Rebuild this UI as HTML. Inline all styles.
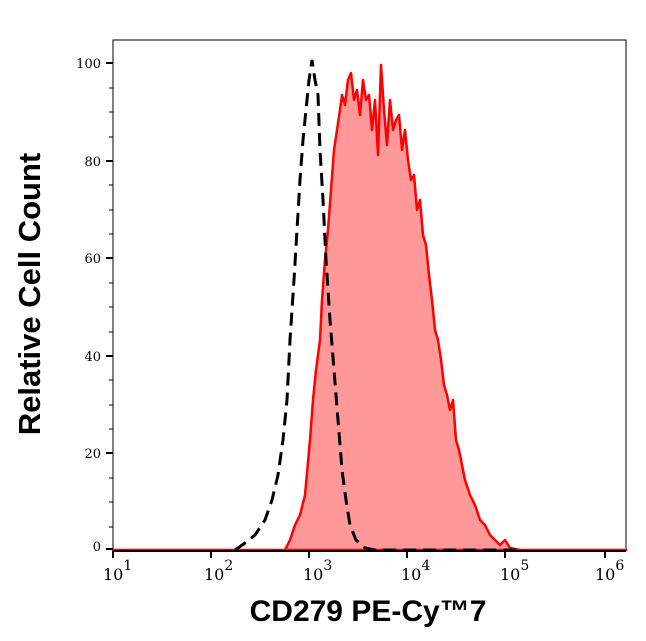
<!DOCTYPE html>
<html><head><meta charset="utf-8"><style>body{margin:0;background:#fff}svg{display:block}</style></head>
<body>
<svg width="646" height="641" xmlns="http://www.w3.org/2000/svg" font-family="DejaVu Serif, serif">
<rect x="113" y="40" width="513" height="511" fill="#fff" stroke="#000" stroke-width="1"/>
<path d="M113,550 L285,550 L290,540 L295,525 L300,515 L305,495 L310,440 L313,400 L316,370 L320,340 L322,300 L325,260 L328,230 L331,190 L334,150 L337,130 L340,110 L342,95 L345,105 L348,80 L351,73 L354,100 L357,90 L360,115 L363,80 L366,100 L369,95 L372,130 L375,100 L378,155 L381,65 L384,110 L387,145 L390,100 L393,130 L396,120 L399,115 L402,150 L405,130 L408,160 L411,180 L414,175 L417,210 L420,200 L423,235 L426,245 L429,275 L432,300 L435,330 L438,340 L441,360 L444,385 L447,395 L450,410 L453,400 L456,440 L459,450 L462,465 L465,480 L470,495 L475,505 L480,520 L485,525 L490,535 L495,540 L500,545 L505,540 L510,548 L520,550 L626,550 Z" fill="#ff9999" stroke="#ff0000" stroke-width="2.5" stroke-linejoin="round"/>
<path d="M235,550 L245,543 L255,535 L265,520 L272,500 L278,475 L283,440 L287,400 L290,340 L294,280 L297,230 L300,180 L303,140 L306,110 L309,80 L312,60 L315,80 L318,95 L320,150 L323,200 L326,260 L330,320 L334,370 L338,420 L342,470 L346,500 L350,525 L356,540 L365,548 L375,550 L520,550" fill="none" stroke="#000" stroke-width="3" stroke-dasharray="13,7"/>
<line x1="113" y1="551" x2="626" y2="551" stroke="#000" stroke-width="2"/>
<g stroke="#000" stroke-width="2">
<line x1="106" y1="63" x2="113" y2="63"/><line x1="106" y1="161" x2="113" y2="161"/><line x1="106" y1="258" x2="113" y2="258"/><line x1="106" y1="356" x2="113" y2="356"/><line x1="106" y1="453" x2="113" y2="453"/><line x1="106" y1="549" x2="113" y2="549"/>
<line x1="113" y1="551" x2="113" y2="558"/><line x1="211" y1="551" x2="211" y2="558"/><line x1="309" y1="551" x2="309" y2="558"/><line x1="407" y1="551" x2="407" y2="558"/><line x1="505" y1="551" x2="505" y2="558"/><line x1="605" y1="551" x2="605" y2="558"/>
</g>
<g stroke="#000" stroke-width="1">
<line x1="109" y1="88" x2="113" y2="88"/><line x1="109" y1="112" x2="113" y2="112"/><line x1="109" y1="137" x2="113" y2="137"/>
<line x1="109" y1="185" x2="113" y2="185"/><line x1="109" y1="210" x2="113" y2="210"/><line x1="109" y1="234" x2="113" y2="234"/>
<line x1="109" y1="283" x2="113" y2="283"/><line x1="109" y1="307" x2="113" y2="307"/><line x1="109" y1="332" x2="113" y2="332"/>
<line x1="109" y1="380" x2="113" y2="380"/><line x1="109" y1="405" x2="113" y2="405"/><line x1="109" y1="429" x2="113" y2="429"/>
<line x1="109" y1="478" x2="113" y2="478"/><line x1="109" y1="502" x2="113" y2="502"/><line x1="109" y1="527" x2="113" y2="527"/>
</g>
<g stroke="#000" stroke-width="1" id="mt"></g>
<g font-size="13" text-anchor="end" fill="#000">
<text x="101" y="68">100</text><text x="101" y="166">80</text><text x="101" y="263">60</text><text x="101" y="361">40</text><text x="101" y="458">20</text><text x="101" y="551">0</text>
</g>
<g font-size="16" fill="#000">
<text x="103" y="580">10<tspan dy="-10" font-size="14">1</tspan></text>
<text x="204" y="580">10<tspan dy="-10" font-size="14">2</tspan></text>
<text x="303" y="580">10<tspan dy="-10" font-size="14">3</tspan></text>
<text x="401" y="580">10<tspan dy="-10" font-size="14">4</tspan></text>
<text x="500" y="580">10<tspan dy="-10" font-size="14">5</tspan></text>
<text x="595" y="580">10<tspan dy="-10" font-size="14">6</tspan></text>
</g>
<text x="368" y="621" font-family="Liberation Sans, sans-serif" font-weight="bold" font-size="30" text-anchor="middle">CD279 PE-Cy™7</text>
<text transform="translate(40,294) rotate(-90)" font-family="Liberation Sans, sans-serif" font-weight="bold" font-size="31" text-anchor="middle">Relative Cell Count</text>
<script>
var g=document.getElementById('mt'),s='';
for(var d=1;d<6;d++){var b=113+98*(d-1);var w=(d==5)?100:98;for(var k=2;k<10;k++){var x=b+w*Math.log10(k);s+='<line x1="'+x+'" y1="551" x2="'+x+'" y2="555"/>';}}
g.innerHTML=s;
</script>
</svg>
</body></html>
